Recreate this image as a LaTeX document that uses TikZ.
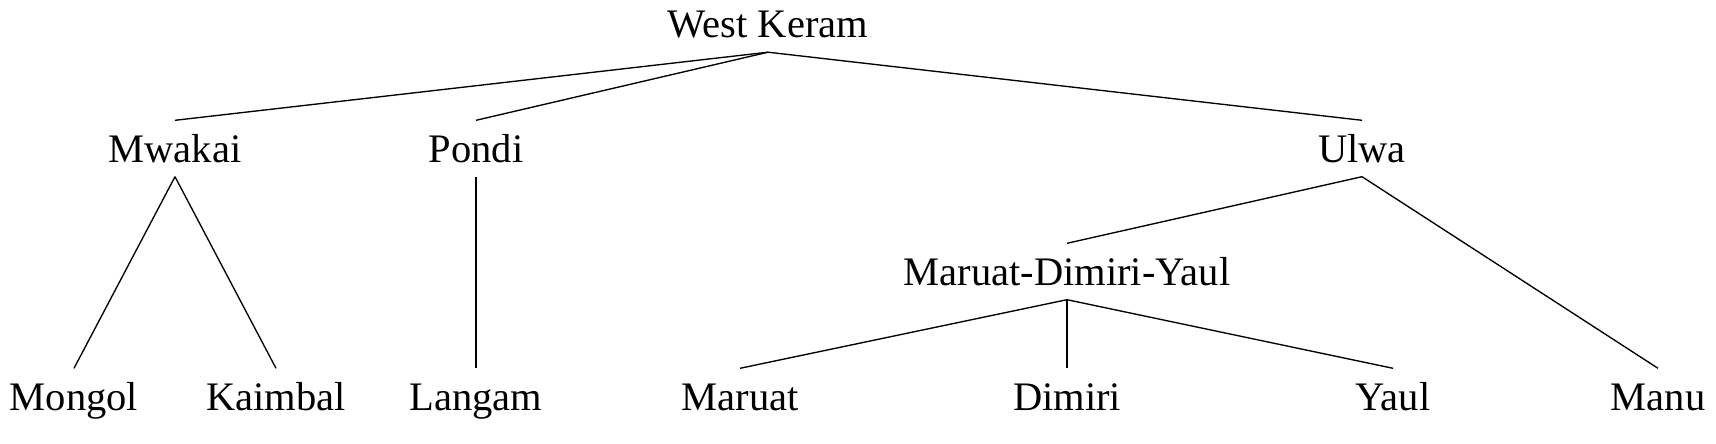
\documentclass[tikz,border=0pt]{standalone}
\usepackage{fontspec}
\setmainfont{Liberation Serif}
\usepackage{tikz}
\usetikzlibrary{positioning}

\begin{document}
\begin{tikzpicture}[x=1pt, y=-1pt,
        lang/.style={anchor=base, font=\fontsize{40.5}{44}\selectfont,
            text height=27pt, text depth=0pt, inner xsep=0pt, inner ysep=14.5pt},
        branch/.style={line width=1.35pt}]
    \useasboundingbox (0,0) rectangle (1716,444);
    % family and subgroups
    \node[lang, inner ysep=14pt] (westkeram) at (768,38) {West Keram};
    \node[lang] (mwakai) at (175,162) {Mwakai};
    \node[lang] (pondi) at (476,162) {Pondi};
    \node[lang] (ulwa) at (1362,162) {Ulwa};
    \node[lang] (mdy) at (1067,285) {Maruat-Dimiri-Yaul};
    % languages
    \node[lang] (mongol) at (74,410) {Mongol};
    \node[lang] (kaimbal) at (276,410) {Kaimbal};
    \node[lang] (langam) at (476,410) {Langam};
    \node[lang] (maruat) at (740,410) {Maruat};
    \node[lang] (dimiri) at (1067,410) {Dimiri};
    \node[lang] (yaul) at (1393,410) {Yaul};
    \node[lang] (manu) at (1658,410) {Manu};
    % branches
    \foreach \p/\c in {westkeram/mwakai, westkeram/pondi, westkeram/ulwa,
            mwakai/mongol, mwakai/kaimbal, pondi/langam,
            ulwa/mdy, ulwa/manu,
            mdy/maruat, mdy/dimiri, mdy/yaul} {
        \draw[branch] (\p.south) -- (\c.north);
    };
\end{tikzpicture}
\end{document}
